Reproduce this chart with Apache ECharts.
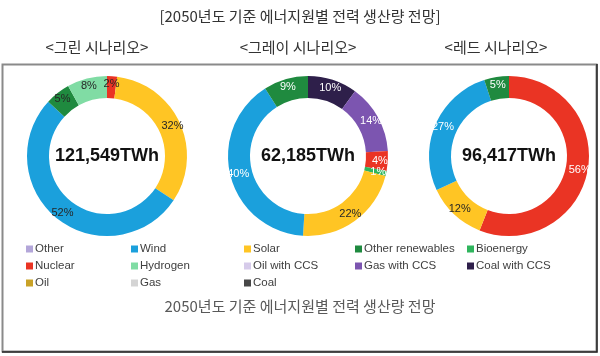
<!DOCTYPE html>
<html>
<head>
<meta charset="utf-8">
<script src="https://cdn.jsdelivr.net/npm/echarts@6/dist/echarts.min.js"></script>
<style>
html,body{margin:0;padding:0;background:#fff;}
#chart{width:600px;height:356px;}
</style>
</head>
<body>
<div id="chart"></div>
<script>
// ---- data ----
const categories = ['Other','Wind','Solar','Other renewables','Bioenergy','Nuclear','Hydrogen','Oil with CCS','Gas with CCS','Coal with CCS','Oil','Gas','Coal'];
const categoryColors = ['#b3a6d9','#1ba0dc','#ffc524','#1f8a3f','#2fb55d','#ea3424','#80dca4','#d6cbea','#7c55b0','#2e1f4a','#c9a227','#d4d4d4','#474747'];

const scenarioTitles = ['<그린 시나리오>','<그레이 시나리오>','<레드 시나리오>'];
const scenarioTotals = ['121,549TWh','62,185TWh','96,417TWh'];

// clockwise from 12 o'clock
const greenNames = ['Nuclear','Solar','Wind','Other renewables','Hydrogen'];
const greenValues = [2, 32, 52, 5, 8];
const grayNames = ['Coal with CCS','Gas with CCS','Nuclear','Bioenergy','Solar','Wind','Other renewables'];
const grayValues = [10, 14, 4, 1, 22, 40, 9];
const redNames = ['Nuclear','Solar','Wind','Other renewables'];
const redValues = [56, 12, 27, 5];

const mainTitle = '[2050년도 기준 에너지원별 전력 생산량 전망]';
const caption = '2050년도 기준 에너지원별 전력 생산량 전망';

const legendColumns = [
  ['Other','Nuclear','Oil'],
  ['Wind','Hydrogen','Gas'],
  ['Solar','Oil with CCS','Coal'],
  ['Other renewables','Gas with CCS'],
  ['Bioenergy','Coal with CCS']
];

// ---- build ----
const colorOf = n => categoryColors[categories.indexOf(n)];
const darkLabel = new Set(['Solar']);

function buildData(names, values, lightText) {
  const d = names.map((n, i) => ({
    name: n, value: values[i],
    itemStyle: { color: colorOf(n) },
    label: { color: (lightText && !darkLabel.has(n)) ? '#ffffff' : '#262626' }
  }));
  categories.forEach(c => {
    if (names.indexOf(c) < 0) d.push({ name: c, value: 0, itemStyle: { color: colorOf(c) }, label: { show: false } });
  });
  return d;
}

const centersX = [107, 308, 509];
const centerY = 156;
const scen = [
  buildData(greenNames, greenValues, false),
  buildData(grayNames, grayValues, true),
  buildData(redNames, redValues, true)
];

const series = scen.map((data, i) => ({
  type: 'pie',
  center: [centersX[i], centerY],
  radius: [58, 80],
  startAngle: 90,
  clockwise: true,
  avoidLabelOverlap: false,
  emphasis: { disabled: true },
  label: {
    show: true, position: 'inside',
    fontFamily: 'Arial, Liberation Sans, sans-serif', fontSize: 11,
    formatter: p => p.value > 0 ? p.value + '%' : ''
  },
  labelLine: { show: false },
  data: data
}));

const titles = [
  { text: mainTitle, left: 300, top: 16, textAlign: 'center', textVerticalAlign: 'middle', padding: 0,
    textStyle: { fontFamily: 'Noto Sans CJK KR', fontSize: 15, fontWeight: 'normal', color: '#333' } },
  { text: caption, left: 300, top: 306, textAlign: 'center', textVerticalAlign: 'middle', padding: 0,
    textStyle: { fontFamily: 'Noto Sans CJK KR', fontSize: 15, fontWeight: 'normal', color: '#595959' } }
];
const subX = [97, 298, 496];
scenarioTitles.forEach((t, i) => titles.push({
  text: t, left: subX[i], top: 47, textAlign: 'center', textVerticalAlign: 'middle', padding: 0,
  textStyle: { fontFamily: 'Noto Sans CJK KR', fontSize: 15, fontWeight: 'normal', color: '#333' }
}));
scenarioTotals.forEach((t, i) => titles.push({
  text: t, left: centersX[i], top: centerY, textAlign: 'center', textVerticalAlign: 'middle', padding: 0,
  textStyle: { fontFamily: 'Arial, Liberation Sans, sans-serif', fontSize: 18, fontWeight: 'bold', color: '#111' }
}));

const legendLeft = [26, 131, 244, 355, 467];
const legends = legendColumns.map((col, i) => ({
  orient: 'vertical', left: legendLeft[i], top: 243, padding: 0,
  itemWidth: 7, itemHeight: 7, itemGap: 5, icon: 'rect',
  selectedMode: false,
  textStyle: { fontFamily: 'Arial, Liberation Sans, sans-serif', fontSize: 11.5, color: '#404040', padding: [0, 0, 0, -3] },
  data: col
}));

const chart = echarts.init(document.getElementById('chart'), null, { renderer: 'canvas' });
chart.setOption({
  backgroundColor: '#fff',
  animation: false,
  title: titles,
  legend: legends,
  graphic: [
    { type: 'rect', shape: { x: 2.5, y: 64.5, width: 594, height: 287 }, style: { fill: 'none', stroke: '#8a8a8a', lineWidth: 2 }, z: -1 },
    { type: 'polyline', shape: { points: [[597, 64], [597, 352], [2, 352]] }, style: { fill: 'none', stroke: '#262626', lineWidth: 1.5 }, z: -1 }
  ],
  series: series
});
</script>
</body>
</html>
